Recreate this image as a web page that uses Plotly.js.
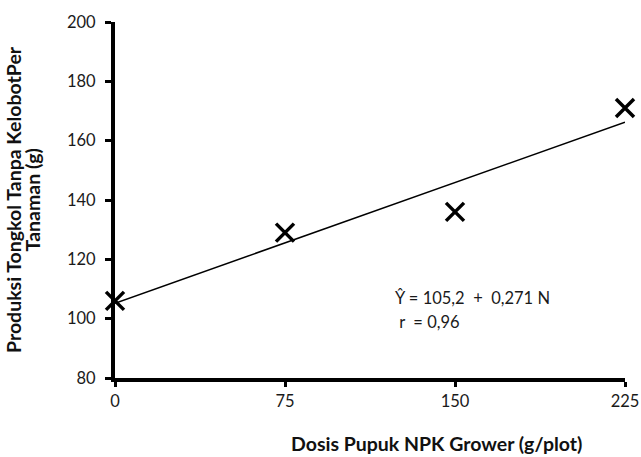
<!DOCTYPE html>
<html>
<head>
<meta charset="utf-8">
<script src="https://cdn.plot.ly/plotly-3.0.1.min.js"></script>
<style>html,body{margin:0;padding:0;background:#fff;}#chart{width:641px;height:457px;}</style>
</head>
<body>
<div id="chart"></div>
<script>
// Data
const doses = [0, 75, 150, 225];
const yields = [106, 129, 136, 171];
const trendX = [0, 225];
const trendY = [105.2, 166.2];
const xTicks = [0, 75, 150, 225];
const yTicks = [80, 100, 120, 140, 160, 180, 200];
const xTitle = "Dosis Pupuk NPK Grower (g/plot)";
const yTitleLine1 = "Produksi Tongkol Tanpa KelobotPer";
const yTitleLine2 = "Tanaman (g)";
const equationText = "Ŷ = 105,2  +  0,271 N";
const rText = " r  = 0,96";

const fontFam = "Lato, 'Open Sans', sans-serif";

const traces = [
  {
    x: trendX, y: trendY, mode: 'lines', type: 'scatter',
    line: {color: '#000', width: 1.5}, hoverinfo: 'skip', showlegend: false
  },
  {
    x: doses, y: yields, mode: 'markers', type: 'scatter',
    marker: {symbol: 'x-thin-open', size: 18, color: '#000', line: {color: '#000', width: 3.5}},
    showlegend: false, cliponaxis: false
  }
];

const layout = {
  width: 641, height: 457,
  margin: {l: 115, r: 16, t: 22, b: 79},
  paper_bgcolor: '#fff', plot_bgcolor: '#fff',
  showlegend: false,
  font: {family: fontFam, color: '#1a1a1a', size: 16},
  xaxis: {
    range: [0, 225], tickvals: xTicks, ticktext: xTicks.map(String),
    showgrid: false, zeroline: false, showline: true, linecolor: '#000', linewidth: 4,
    ticks: 'outside', ticklen: 5, tickwidth: 3, tickcolor: '#000',
    tickfont: {family: fontFam, size: 16.5, color: '#1a1a1a'},
    fixedrange: true
  },
  yaxis: {
    range: [80, 200], tickvals: yTicks, ticktext: yTicks.map(String),
    showgrid: false, zeroline: false, showline: true, linecolor: '#000', linewidth: 4,
    ticks: 'outside', ticklen: 6, tickwidth: 3, tickcolor: '#000',
    tickfont: {family: fontFam, size: 16.5, color: '#1a1a1a'},
    ticklabelstandoff: 6,
    fixedrange: true
  },
  annotations: [
    {x: 0.631, y: -0.184, xref: 'paper', yref: 'paper', xanchor: 'center', yanchor: 'middle', showarrow: false,
     text: '<b>' + xTitle + '</b>', font: {family: fontFam, size: 19.5, color: '#111'}},
    {x: -0.2, y: 0.5, xref: 'paper', yref: 'paper', xanchor: 'center', yanchor: 'middle', showarrow: false,
     textangle: -90, text: '<b>' + yTitleLine1 + '</b>', font: {family: fontFam, size: 19.5, color: '#111'}},
    {x: -0.162, y: 0.5, xref: 'paper', yref: 'paper', xanchor: 'center', yanchor: 'middle', showarrow: false,
     textangle: -90, text: '<b>' + yTitleLine2 + '</b>', font: {family: fontFam, size: 19.5, color: '#111'}},
    {x: 0.545, y: 0.226, xref: 'paper', yref: 'paper', xanchor: 'left', yanchor: 'middle', showarrow: false,
     text: equationText, font: {family: fontFam, size: 16.5, color: '#1a1a1a'}},
    {x: 0.545, y: 0.156, xref: 'paper', yref: 'paper', xanchor: 'left', yanchor: 'middle', showarrow: false,
     text: rText, font: {family: fontFam, size: 16.5, color: '#1a1a1a'}}
  ]
};

Plotly.newPlot('chart', traces, layout, {displayModeBar: false, staticPlot: true});
</script>
</body>
</html>
